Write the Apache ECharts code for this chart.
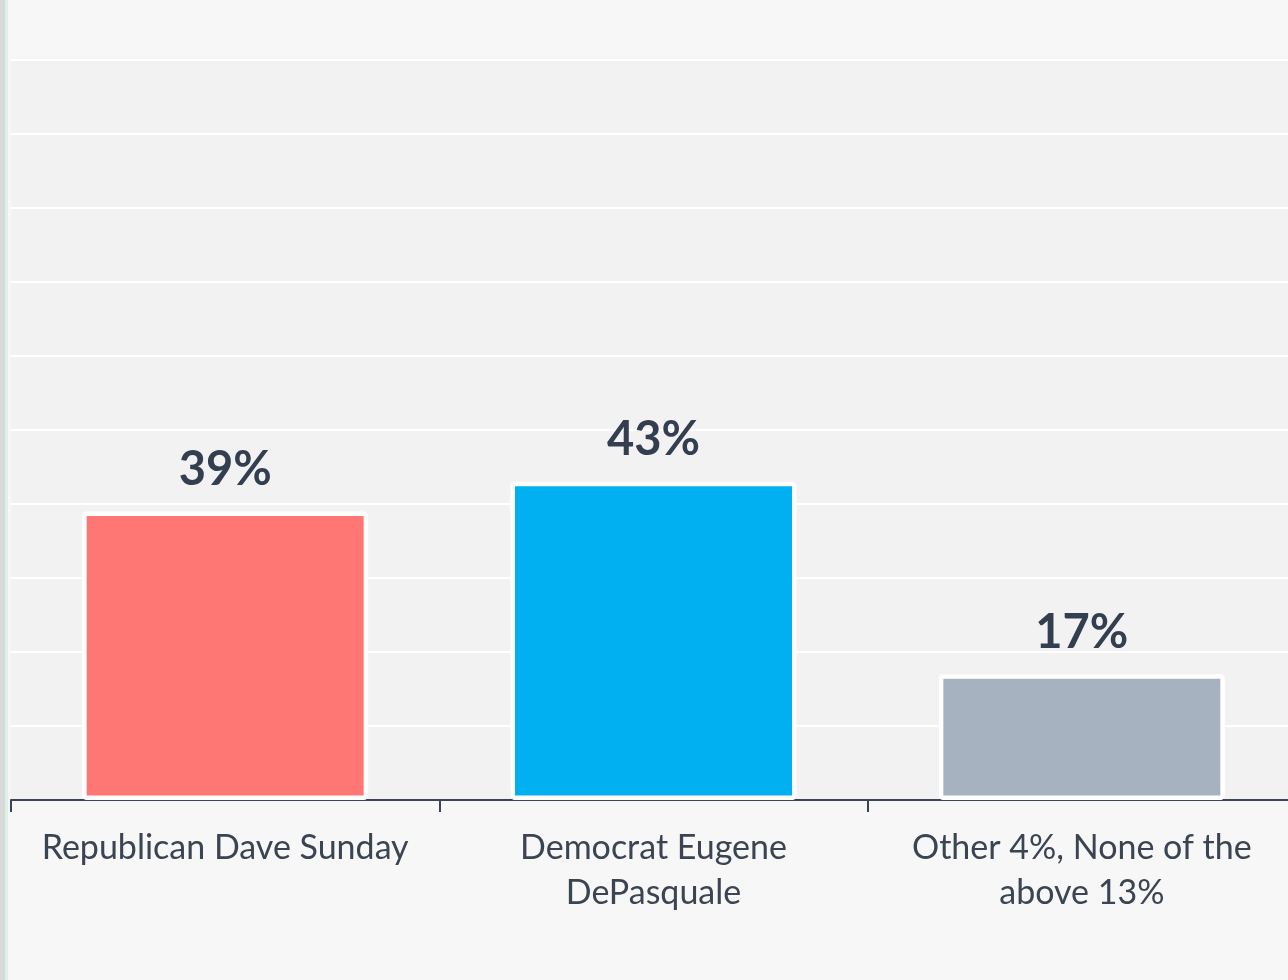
<!DOCTYPE html>
<html>
<head>
<meta charset="utf-8">
<script src="https://cdn.jsdelivr.net/npm/echarts@6/dist/echarts.min.js"></script>
<style>
  html, body { margin: 0; padding: 0; background: #f7f7f7; overflow: hidden; }
  #chart { width: 1296px; height: 980px; }
</style>
</head>
<body>
<div id="chart"></div>
<script>
// poll results
const categories = ['Republican Dave Sunday', 'Democrat Eugene\nDePasquale', 'Other 4%, None of the\nabove 13%']
const values = [39, 43, 17]
const barColors = ['#ff7774', '#00b0f0', '#a6b2c0']

const myChart = echarts.init(document.getElementById('chart'))

const option = {
  backgroundColor: '#f7f7f7',
  animation: false,
  graphic: [
    { type: 'rect', shape: { x: 0, y: 0, width: 5, height: 980 }, style: { fill: '#d9d9d9' } },
    { type: 'rect', shape: { x: 5, y: 0, width: 3, height: 980 }, style: { fill: '#dcf1e8' } }
  ],
  grid: {
    left: 11,
    right: 0,
    top: 60,
    bottom: 180,
    show: true,
    backgroundColor: '#f2f2f2',
    borderWidth: 0,
    containLabel: false
  },
  xAxis: {
    type: 'category',
    data: categories,
    axisLine: { lineStyle: { color: '#3a4452', width: 2 } },
    axisTick: { show: true, length: 12, lineStyle: { color: '#3a4452', width: 2 } },
    axisLabel: {
      color: '#3a4452',
      fontFamily: 'Lato',
      fontSize: 34,
      lineHeight: 45,
      margin: 26,
      interval: 0
    }
  },
  yAxis: {
    type: 'value',
    min: 0,
    max: 100,
    interval: 10,
    axisLabel: { show: false },
    axisLine: { show: false },
    axisTick: { show: false },
    splitLine: { lineStyle: { color: '#ffffff', width: 2 } }
  },
  series: [
    {
      type: 'bar',
      data: values.map((v, i) => ({
        value: v,
        itemStyle: { color: barColors[i] }
      })),
      barWidth: 286,
      itemStyle: {
        borderColor: '#ffffff',
        borderWidth: 4.5,
        borderRadius: 2
      },
      label: {
        show: true,
        position: 'top',
        distance: 18,
        formatter: '{c}%',
        color: '#333f50',
        fontFamily: 'Lato',
        fontWeight: 'bold',
        fontSize: 47
      }
    }
  ]
}

myChart.setOption(option)
</script>
</body>
</html>
